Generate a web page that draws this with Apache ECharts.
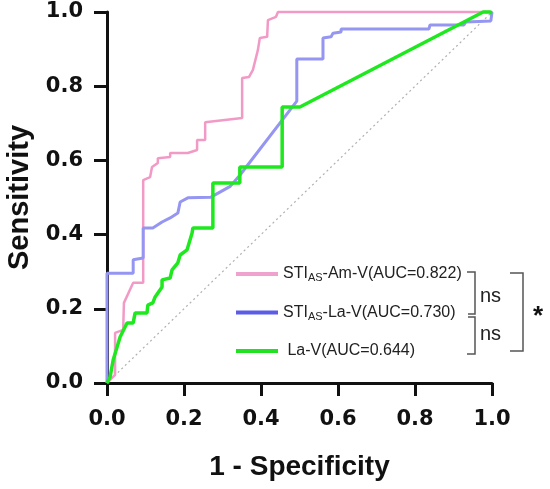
<!DOCTYPE html>
<html>
    <head>
        <meta charset="UTF-8">
        <script src="https://cdn.jsdelivr.net/npm/echarts@6/dist/echarts.min.js"></script>
    </head>
    <body style="margin:0;background:#fff">
        <div id="main" style="width:550px;height:489px"></div>
        <script type="text/javascript">
            // ROC points, [1 - specificity, sensitivity]
            var amV = [
                [0, 0], [0.021, 0.022], [0.021, 0.135], [0.042, 0.143], [0.044, 0.216],
                [0.068, 0.27], [0.094, 0.27], [0.094, 0.547], [0.112, 0.555], [0.117, 0.582],
                [0.132, 0.593], [0.132, 0.606], [0.164, 0.609], [0.164, 0.62], [0.21, 0.62],
                [0.234, 0.628], [0.234, 0.655], [0.255, 0.655], [0.255, 0.703], [0.351, 0.714],
                [0.351, 0.822], [0.369, 0.825], [0.379, 0.844], [0.392, 0.898], [0.397, 0.93],
                [0.416, 0.933], [0.418, 0.978], [0.439, 0.987], [0.444, 1], [1, 1]
            ];
            var laSti = [
                [0, 0], [0, 0.296], [0.068, 0.296], [0.068, 0.332], [0.094, 0.337],
                [0.094, 0.418], [0.119, 0.418], [0.143, 0.434], [0.164, 0.445], [0.184, 0.458],
                [0.190, 0.488], [0.21, 0.499], [0.27, 0.501], [0.32, 0.53], [0.345, 0.56],
                [0.493, 0.76], [0.493, 0.873], [0.561, 0.873], [0.561, 0.93], [0.582, 0.933],
                [0.587, 0.943], [0.608, 0.946], [0.608, 0.954], [0.836, 0.954], [0.839, 0.965],
                [0.927, 0.965], [0.932, 0.973], [0.997, 0.976], [1, 0.976], [1, 1]
            ];
            var laV = [
                [0, 0], [0.008, 0.016], [0.016, 0.062], [0.034, 0.124], [0.052, 0.162],
                [0.068, 0.162], [0.073, 0.189], [0.104, 0.189], [0.106, 0.21], [0.119, 0.216],
                [0.125, 0.232], [0.143, 0.259], [0.143, 0.278], [0.164, 0.283], [0.169, 0.305],
                [0.184, 0.324], [0.19, 0.345], [0.208, 0.359], [0.221, 0.404], [0.223, 0.418],
                [0.275, 0.418], [0.275, 0.539], [0.345, 0.539], [0.345, 0.582], [0.455, 0.582],
                [0.455, 0.744], [0.501, 0.744], [0.977, 1], [0.995, 1], [1, 0.997]
            ];
            var chance = [[0, 0], [1, 1]];

            var seriesNames = ['STI-Am-V', 'STI-La-V', 'La-V'];
            var aucValues = ['0.822', '0.730', '0.644'];
            var tickLabels = ['0.0', '0.2', '0.4', '0.6', '0.8', '1.0'];

            var chart = echarts.init(document.getElementById('main'), null, {renderer: 'canvas'});

            var axisCommon = {
                type: 'value',
                min: 0,
                max: 1,
                interval: 0.2,
                splitLine: {show: false},
                axisLine: {show: true, lineStyle: {color: '#111', width: 3}},
                axisTick: {show: true, length: 13, lineStyle: {color: '#111', width: 3}},
                nameLocation: 'middle',
                nameTextStyle: {fontFamily: 'Liberation Sans', fontWeight: 'bold', fontSize: 28, color: '#111'}
            };

            var labelStyle = {
                fontFamily: 'DejaVu Sans',
                fontWeight: 'bold',
                fontSize: 21,
                color: '#111',
                formatter: function (v) { return tickLabels[Math.round(v * 5)]; }
            };

            var option = {
                animation: false,
                backgroundColor: '#fff',
                grid: {left: 107, right: 58, top: 12, bottom: 106, outerBoundsMode: 'none'},
                xAxis: Object.assign({}, axisCommon, {
                    name: '1 - Specificity',
                    nameGap: 70,
                    axisLabel: Object.assign({margin: 26}, labelStyle)
                }),
                yAxis: Object.assign({}, axisCommon, {
                    name: 'Sensitivity',
                    nameGap: 73,
                    nameTextStyle: {fontFamily: 'Liberation Sans', fontWeight: 'bold', fontSize: 29, color: '#111'},
                    axisLabel: Object.assign({margin: 24}, labelStyle)
                }),
                legend: {
                    orient: 'vertical',
                    left: 236,
                    top: 266,
                    padding: 0,
                    itemWidth: 42,
                    itemHeight: 4,
                    itemGap: 21,
                    icon: 'rect',
                    data: [
                        {name: seriesNames[0], itemStyle: {color: '#f0a2cf'}},
                        {name: seriesNames[1], itemStyle: {color: '#5c5ce8'}},
                        {name: seriesNames[2], itemStyle: {color: '#22e022'}}
                    ],
                    formatter: function (name) {
                        var i = seriesNames.indexOf(name);
                        if (name.indexOf('STI') === 0) {
                            return '{t|STI}{s|AS}{t|' + name.slice(3) + '(AUC=' + aucValues[i] + ')}';
                        }
                        return '{t| ' + name + '(AUC=' + aucValues[i] + ')}';
                    },
                    textStyle: {
                        rich: {
                            t: {fontFamily: 'Liberation Sans', fontSize: 16, color: '#222', lineHeight: 19},
                            s: {fontFamily: 'Liberation Sans', fontSize: 11, color: '#222', padding: [8, 0, 0, 0]}
                        }
                    }
                },
                series: [
                    {
                        name: 'chance',
                        type: 'line',
                        data: chance,
                        showSymbol: false,
                        silent: true,
                        lineStyle: {color: '#b0b0b0', width: 1.2, type: [2, 3]}
                    },
                    {
                        name: seriesNames[0],
                        type: 'line',
                        data: amV,
                        showSymbol: false,
                        clip: false,
                        lineStyle: {color: '#f29ac6', width: 2.5}
                    },
                    {
                        name: seriesNames[1],
                        type: 'line',
                        data: laSti,
                        showSymbol: false,
                        clip: false,
                        lineStyle: {color: '#9595f2', width: 3}
                    },
                    {
                        name: seriesNames[2],
                        type: 'line',
                        data: laV,
                        showSymbol: false,
                        clip: false,
                        lineStyle: {color: '#1ee81e', width: 3.5}
                    }
                ],
                graphic: [
                    // comparison brackets
                    {type: 'polyline', shape: {points: [[467, 272], [475, 272], [475, 314], [468, 314]]}, style: {stroke: '#555', lineWidth: 1.5, fill: null}},
                    {type: 'polyline', shape: {points: [[468, 317], [475, 317], [475, 354], [467, 354]]}, style: {stroke: '#555', lineWidth: 1.5, fill: null}},
                    {type: 'polyline', shape: {points: [[510, 273], [523, 273], [523, 351], [510, 351]]}, style: {stroke: '#555', lineWidth: 1.5, fill: null}},
                    {type: 'text', left: 480, top: 286, style: {text: 'ns', fontFamily: 'Liberation Sans', fontSize: 20, fill: '#222'}},
                    {type: 'text', left: 480, top: 324, style: {text: 'ns', fontFamily: 'Liberation Sans', fontSize: 20, fill: '#222'}},
                    {type: 'text', left: 533, top: 304, style: {text: '*', fontFamily: 'Liberation Sans', fontWeight: 'bold', fontSize: 26, fill: '#111'}}
                ]
            };

            chart.setOption(option);
        </script>
    </body>
</html>
